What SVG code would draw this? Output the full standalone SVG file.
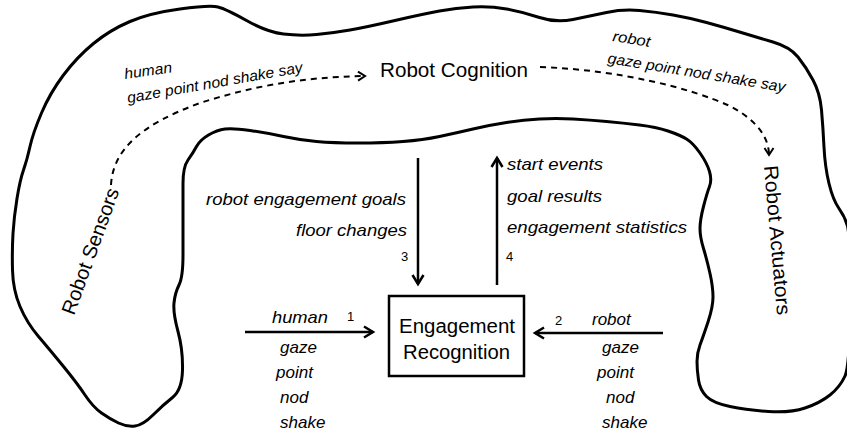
<svg xmlns="http://www.w3.org/2000/svg" width="847" height="436" viewBox="0 0 847 436">
<style>
.blob{fill:#fff;stroke:#000;stroke-width:3;stroke-linejoin:round}
.big{font-family:"Liberation Sans",Arial,sans-serif;font-size:20px;fill:#000}
.lab{font-family:"Liberation Sans",Arial,sans-serif;font-size:17px;font-style:italic;fill:#000}
.sm{font-family:"Liberation Sans",Arial,sans-serif;font-size:15px;font-style:italic;fill:#000}
.num{font-family:"Liberation Sans",Arial,sans-serif;font-size:13px;fill:#000}
.arr{fill:none;stroke:#000;stroke-width:2.5;marker-end:url(#ah)}
.dash{fill:none;stroke:#000;stroke-width:2;stroke-dasharray:6 5;marker-end:url(#dh)}
.box{fill:#fff;stroke:#000;stroke-width:2.5}
</style>
<defs>
<marker id="ah" viewBox="-12 -8 16 16" refX="0" refY="0" markerWidth="16" markerHeight="16" markerUnits="userSpaceOnUse" orient="auto">
<path d="M-9,-5.5 L0,0 L-9,5.5" fill="none" stroke="#000" stroke-width="2.5" stroke-linejoin="miter"/>
</marker>
<marker id="dh" viewBox="-10 -7 14 14" refX="0" refY="0" markerWidth="14" markerHeight="14" markerUnits="userSpaceOnUse" orient="auto">
<path d="M-7,-4.5 L0,0 L-7,4.5" fill="none" stroke="#000" stroke-width="2"/>
</marker>
</defs>
<rect width="847" height="436" fill="#fff"/>
<g id="world">
<path class="blob" d="M118.5,423 Q110,419 101.5,413 Q93,407 85,395 Q77,383 63.5,366.5 Q50,350 38.5,336.5 Q27,323 20,306.5 Q13,290 12.5,270 Q12,250 13,233.5 Q14,217 17,198.5 Q20,180 23.5,170 Q27,160 30,146.5 Q33,133 41.5,113 Q50,93 63.5,75 Q77,57 93.5,43.5 Q110,30 130,21.5 Q150,13 180,9 Q210,5 218,7 Q226,9 246.5,20.5 Q267,32 283.5,34 Q300,36 316.5,34.5 Q333,33 350,30 Q367,27 395,20.5 Q423,14 439.5,11 Q456,8 473,7 Q490,6 506.5,9 Q523,12 539.5,17.5 Q556,23 573,19.5 Q590,16 606.5,12.5 Q623,9 639.5,10.5 Q656,12 673,15 Q690,18 706.5,22.5 Q723,27 739.5,32 Q756,37 773,42 Q790,47 798,57 Q806,67 813,80 Q820,93 821.5,110 Q823,127 824,147 Q825,167 829,183.5 Q833,200 839,208.5 Q845,217 847.5,226 Q850,235 850,300 Q850,365 845,376 Q840,387 830,395 Q820,403 805,408 Q790,413 768.5,411.5 Q747,410 730,406.5 Q713,403 706.5,396.5 Q700,390 698.5,380 Q697,370 697,361.5 Q697,353 700,345 Q703,337 708,322 Q713,307 713,297 Q713,287 710,273.5 Q707,260 703.5,248.5 Q700,237 700,228.5 Q700,220 703.5,206.5 Q707,193 709.5,186.5 Q712,180 709.5,171.5 Q707,163 700,153 Q693,143 686.5,139 Q680,135 668,131 Q656,127 639.5,125 Q623,123 606.5,121.5 Q590,120 573,119 Q556,118 539.5,119 Q523,120 506.5,122.5 Q490,125 473,129 Q456,133 439.5,136.5 Q423,140 403,141.5 Q383,143 358,143 Q333,143 316.5,141.5 Q300,140 283.5,136.5 Q267,133 250,130.5 Q233,128 225,129 Q217,130 208.5,135 Q200,140 196.5,146.5 Q193,153 188,160 Q183,167 183,183.5 Q183,200 183,216.5 Q183,233 183,255 Q183,277 179,285 Q175,293 174,303 Q173,313 178,331.5 Q183,350 182.5,370 Q182,390 172.5,397.5 Q163,405 153,415 Q143,425 135,426 Q127,427 118.5,423 Z"/>
</g>
<g id="sensors">
<text class="big" transform="translate(74,316) rotate(-70)" textLength="133" lengthAdjust="spacingAndGlyphs">Robot Sensors</text>
</g>
<g id="cognition">
<text class="big" x="380" y="77" textLength="148" lengthAdjust="spacingAndGlyphs">Robot Cognition</text>
</g>
<g id="actuators">
<text class="big" transform="translate(764,166) rotate(85)" textLength="150" lengthAdjust="spacingAndGlyphs">Robot Actuators</text>
</g>
<g id="engagement">
<rect class="box" x="389" y="296" width="135" height="80"/>
<text class="big" x="399" y="333" textLength="116" lengthAdjust="spacingAndGlyphs">Engagement</text>
<text class="big" x="403" y="359" textLength="107" lengthAdjust="spacingAndGlyphs">Recognition</text>
</g>
<g id="connectors">
<path class="dash" d="M111,185 C113,150 140,125 200,103 C250,87 300,77 365,76"/>
<path class="dash" d="M540,67 C620,70 690,88 730,106 C760,122 769,140 769,155"/>
<path class="arr" d="M418,158 L418,284"/>
<path class="arr" d="M497,285 L497,158"/>
<path class="arr" d="M245,332 L373,332"/>
<path class="arr" d="M663,333 L535,333"/>
</g>
<g id="labels">
<text class="sm" transform="translate(125,79) rotate(-8)" textLength="48" lengthAdjust="spacingAndGlyphs">human</text>
<text class="sm" transform="translate(128,103) rotate(-10)" textLength="178" lengthAdjust="spacingAndGlyphs">gaze point nod shake say</text>
<text class="sm" transform="translate(612,41) rotate(9)" textLength="38" lengthAdjust="spacingAndGlyphs">robot</text>
<text class="sm" transform="translate(607,63) rotate(9.3)" textLength="180" lengthAdjust="spacingAndGlyphs">gaze point nod shake say</text>
<text class="lab" x="206" y="205" textLength="200" lengthAdjust="spacingAndGlyphs">robot engagement goals</text>
<text class="lab" x="296" y="236" textLength="111" lengthAdjust="spacingAndGlyphs">floor changes</text>
<text class="num" x="401" y="261">3</text>
<text class="lab" x="507" y="170" textLength="96" lengthAdjust="spacingAndGlyphs">start events</text>
<text class="lab" x="507" y="202" textLength="95" lengthAdjust="spacingAndGlyphs">goal results</text>
<text class="lab" x="507" y="233" textLength="180" lengthAdjust="spacingAndGlyphs">engagement statistics</text>
<text class="num" x="506" y="261">4</text>
<text class="lab" x="272" y="323" textLength="56" lengthAdjust="spacingAndGlyphs">human</text>
<text class="num" x="347" y="321">1</text>
<text class="lab" x="280" y="353">gaze</text>
<text class="lab" x="276" y="378">point</text>
<text class="lab" x="280" y="403">nod</text>
<text class="lab" x="280" y="428">shake</text>
<text class="num" x="555" y="325">2</text>
<text class="lab" x="592" y="325">robot</text>
<text class="lab" x="602" y="353">gaze</text>
<text class="lab" x="597" y="378">point</text>
<text class="lab" x="606" y="403">nod</text>
<text class="lab" x="602" y="428">shake</text>
</g>
</svg>
